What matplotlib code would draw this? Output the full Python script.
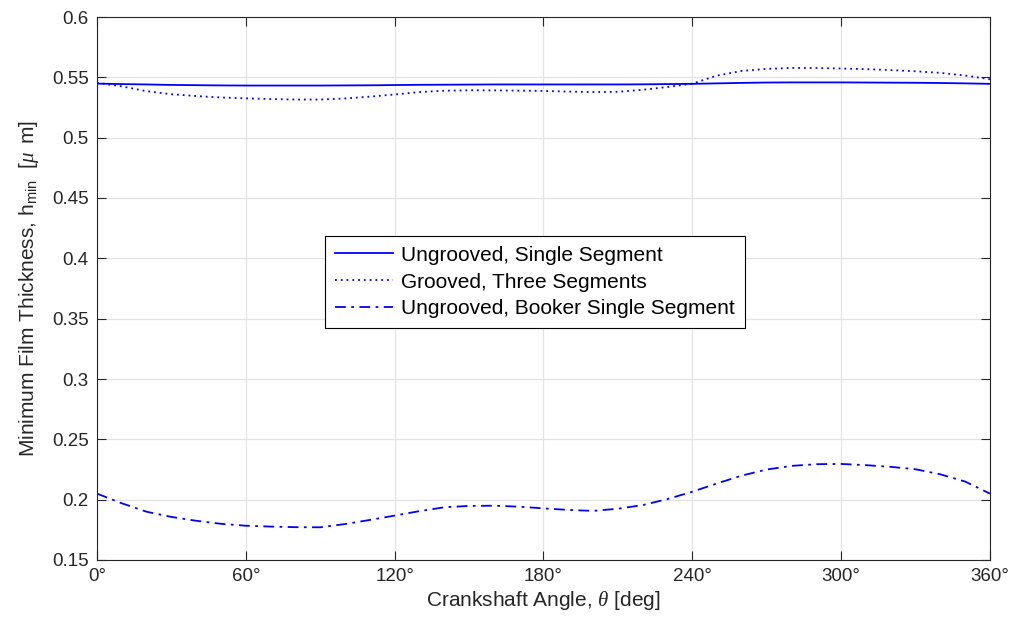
import matplotlib
matplotlib.use("Agg")
import matplotlib.pyplot as plt

plt.rcParams['font.family'] = ['Liberation Sans', 'DejaVu Sans']
plt.rcParams['mathtext.fontset'] = 'custom'
plt.rcParams['mathtext.rm'] = 'Liberation Sans'
plt.rcParams['mathtext.it'] = 'Liberation Serif:italic'

theta = [0, 10, 20, 30, 40, 50, 60, 70, 80, 90, 100, 110, 120, 130, 140, 150, 160, 170, 180,
         190, 200, 210, 220, 230, 240, 250, 260, 270, 280, 290, 300, 310, 320, 330, 340, 350, 360]

ungrooved_single = [0.5448, 0.5444, 0.5441, 0.5437, 0.5435, 0.5433, 0.5432, 0.5432, 0.5432, 0.5432,
                    0.5433, 0.5434, 0.5436, 0.5438, 0.5439, 0.5440, 0.5441, 0.5441, 0.5441,
                    0.5441, 0.5441, 0.5441, 0.5442, 0.5444, 0.5446, 0.5450, 0.5454, 0.5457, 0.5458,
                    0.5458, 0.5458, 0.5457, 0.5456, 0.5455, 0.5453, 0.5450, 0.5446]

grooved_three = [0.5455, 0.5425, 0.5385, 0.5360, 0.5345, 0.5333, 0.5326, 0.5320, 0.5316, 0.5316,
                 0.5325, 0.5340, 0.5358, 0.5378, 0.5389, 0.5393, 0.5392, 0.5390, 0.5387,
                 0.5382, 0.5378, 0.5380, 0.5397, 0.5420, 0.5448, 0.5515, 0.5553, 0.5570, 0.5578,
                 0.5577, 0.5573, 0.5568, 0.5560, 0.5550, 0.5537, 0.5515, 0.5484]

booker_single = [0.2050, 0.1970, 0.1900, 0.1857, 0.1825, 0.1800, 0.1784, 0.1777, 0.1772, 0.1771,
                 0.1798, 0.1832, 0.1868, 0.1905, 0.1937, 0.1948, 0.1950, 0.1942, 0.1928,
                 0.1915, 0.1907, 0.1925, 0.1955, 0.2005, 0.2066, 0.2135, 0.2200, 0.2250, 0.2280,
                 0.2294, 0.2296, 0.2286, 0.2272, 0.2252, 0.2210, 0.2150, 0.2050]

labels = ['Ungrooved, Single Segment', 'Grooved, Three Segments', 'Ungrooved, Booker Single Segment']
xticks = [0, 60, 120, 180, 240, 300, 360]
xticklabels = ['0°', '60°', '120°', '180°', '240°', '300°', '360°']
yticks = [0.15, 0.2, 0.25, 0.3, 0.35, 0.4, 0.45, 0.5, 0.55, 0.6]
yticklabels = ['0.15', '0.2', '0.25', '0.3', '0.35', '0.4', '0.45', '0.5', '0.55', '0.6']

fig = plt.figure(figsize=(10.12, 6.29), dpi=100)
ax = fig.add_axes([97/1012, 69/629, 893/1012, 543/629])

blue = '#0000ff'
ax.plot(theta, ungrooved_single, color=blue, lw=1.3, ls='-', label=labels[0])
ax.plot(theta, grooved_three, color=blue, lw=1.3, ls=(0, (1, 2.2)), label=labels[1])
ax.plot(theta, booker_single, color=blue, lw=1.3, ls=(0, (6, 3, 1.5, 3)), label=labels[2])

ax.set_xlim(0, 360)
ax.set_ylim(0.15, 0.6)
ax.set_xticks(xticks)
ax.set_xticklabels(xticklabels)
ax.set_yticks(yticks)
ax.set_yticklabels(yticklabels)
ax.grid(True, color='#e3e3e3', lw=0.9)
ax.set_axisbelow(True)
ax.tick_params(direction='in', top=True, right=True, labelsize=13.5, colors='#262626',
               length=6.5, width=0.8, pad=6)
for s in ax.spines.values():
    s.set_color('#262626')
    s.set_linewidth(0.8)

ax.set_xlabel(r'Crankshaft Angle, $\theta$ [deg]', fontsize=15, color='#262626', labelpad=3)
ax.set_ylabel(r'Minimum Film Thickness, h$_{\rm min}$  [$\mu\,$ m]', fontsize=15,
              color='#262626', labelpad=8)

leg = ax.legend(loc='center', bbox_to_anchor=(535/1012, 1 - 282/629), bbox_transform=fig.transFigure,
                fontsize=15, frameon=True, fancybox=False, edgecolor='black', framealpha=1,
                handlelength=2.8, handletextpad=0.4, borderpad=0.45, labelspacing=0.38,
                borderaxespad=0)
leg.get_frame().set_linewidth(0.8)

fig.savefig('out.png', dpi=100)
